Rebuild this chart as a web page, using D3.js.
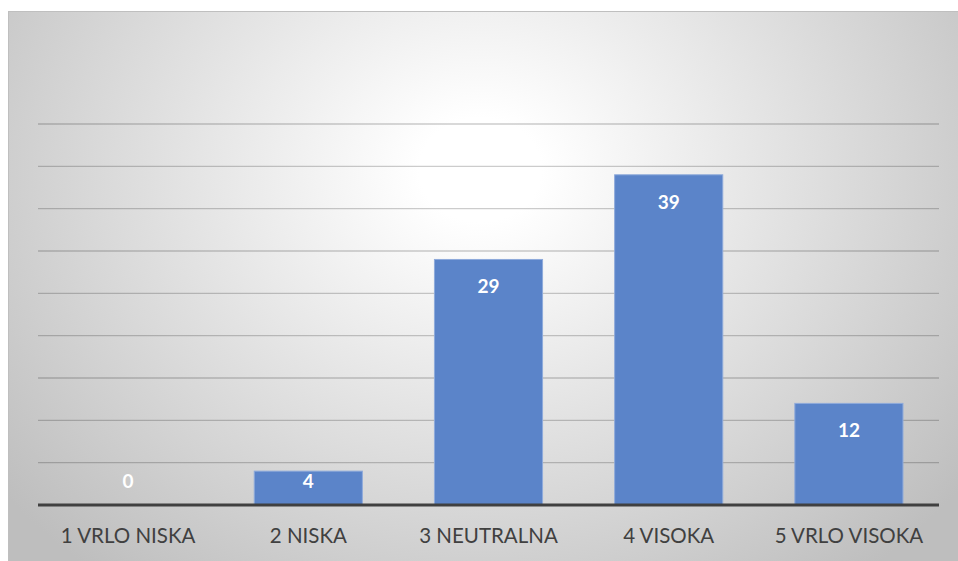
<!DOCTYPE html>
<html>
<head>
<meta charset="utf-8">
<script src="https://cdn.jsdelivr.net/npm/d3@7"></script>
<style>
  body { margin: 0; background: #fff; }
  .cat text { font-family: Lato, "Open Sans", sans-serif; font-size: 20.5px; fill: #404040; }
  .lbl { font-family: Lato, "Open Sans", sans-serif; font-size: 19px; font-weight: bold; fill: #fff; }
</style>
</head>
<body>
<script>
// Data
var categories = ["1 VRLO NISKA", "2 NISKA", "3 NEUTRALNA", "4 VISOKA", "5 VRLO VISOKA"];
var values = [0, 4, 29, 39, 12];
var gridTicks = [5, 10, 15, 20, 25, 30, 35, 40, 45];

var W = 958, H = 561;
var margin = {top: 124, right: 19, bottom: 56, left: 38};

var svg = d3.select("body").append("svg")
    .attr("width", W)
    .attr("height", H);

// background gradient
var defs = svg.append("defs");
var grad = defs.append("radialGradient")
    .attr("id", "bg")
    .attr("gradientUnits", "userSpaceOnUse")
    .attr("cx", 480).attr("cy", 170).attr("r", 610)
    .attr("gradientTransform", "translate(480,170) scale(1,0.85) translate(-480,-170)");
grad.append("stop").attr("offset", "0%").attr("stop-color", "#ffffff");
grad.append("stop").attr("offset", "10%").attr("stop-color", "#ffffff");
grad.append("stop").attr("offset", "100%").attr("stop-color", "#bebebe");

svg.append("rect")
    .attr("x", 8.5).attr("y", 11.5)
    .attr("width", W - 8).attr("height", H - 11)
    .attr("fill", "url(#bg)")
    .attr("stroke", "#bfbfbf");

var width = W - margin.left - margin.right,
    height = H - margin.top - margin.bottom;

var x = d3.scaleBand().domain(categories).range([margin.left, margin.left + width])
    .paddingInner(0.4).paddingOuter(0.2);
var y = d3.scaleLinear().domain([0, 45]).range([505, 124]);

// gridlines
svg.append("g").selectAll("line").data(gridTicks).enter().append("line")
    .attr("x1", margin.left).attr("x2", margin.left + width)
    .attr("y1", function(d) { return y(d); })
    .attr("y2", function(d) { return y(d); })
    .attr("stroke", "#000")
    .attr("stroke-opacity", 0.2)
    .attr("stroke-width", 1.3);

// bars
svg.append("g").selectAll("rect").data(values).enter().append("rect")
    .attr("x", function(d, i) { return x(categories[i]); })
    .attr("y", function(d) { return y(d); })
    .attr("width", x.bandwidth())
    .attr("height", function(d) { return y(0) - y(d); })
    .attr("fill", "#5b84c9")
    .attr("stroke", "#8eaadb")
    .attr("stroke-width", 1);

// value labels (inside end, kept above the baseline)
svg.append("g").selectAll("text").data(values).enter().append("text")
    .attr("class", "lbl")
    .attr("x", function(d, i) { return x(categories[i]) + x.bandwidth() / 2; })
    .attr("y", function(d) { return Math.min(y(d) + 34, y(0) - 17); })
    .attr("text-anchor", "middle")
    .text(function(d) { return d; });

// x axis
var xAxis = svg.append("g")
    .attr("class", "cat")
    .attr("transform", "translate(0,505)")
    .call(d3.axisBottom(x).tickSize(0).tickPadding(23));
xAxis.select(".domain").remove();
svg.append("line")
    .attr("x1", margin.left).attr("x2", margin.left + width)
    .attr("y1", 505).attr("y2", 505)
    .attr("stroke", "#404040").attr("stroke-width", 3);
</script>
</body>
</html>
